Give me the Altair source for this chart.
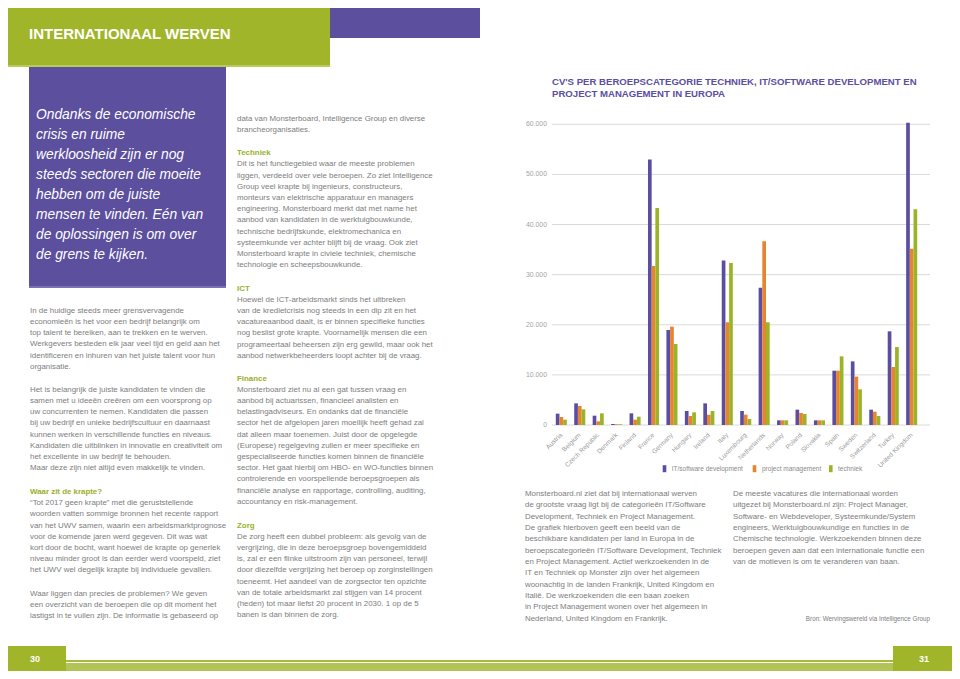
import altair as alt
import pandas as pd

# ---------------- data ----------------
countries = ["Austria", "Belgium", "Czech Republic", "Denmark", "Finland", "France",
             "Germany", "Hungary", "Ireland", "Italy", "Luxembourg", "Netherlands",
             "Norway", "Poland", "Slovakia", "Spain", "Sweden", "Switzerland",
             "Turkey", "United Kingdom"]
series = ["IT/software development", "project management", "techniek"]
it_software = [2260, 4320, 1860, 200, 2330, 53000, 18960, 2790, 4320, 32800,
               2790, 27400, 930, 3060, 930, 10840, 12700, 3060, 18690, 60300]
project_mgmt = [1600, 3790, 730, 150, 1060, 31730, 19620, 1800, 2060, 20490,
                2060, 36650, 930, 2400, 930, 10840, 9650, 2660, 11570, 35190]
techniek = [1060, 3130, 2330, 150, 1660, 43300, 16160, 2530, 2790, 32330,
            1200, 20490, 930, 2200, 930, 13700, 7120, 1800, 15570, 43040]
y_ticks = [0, 10000, 20000, 30000, 40000, 50000, 60000]
y_tick_labels = ["0", "10.000", "20.000", "30.000", "40.000", "50.000", "60.000"]

chart_title = ["CV'S PER BEROEPSCATEGORIE TECHNIEK, IT/SOFTWARE DEVELOPMENT EN",
               "PROJECT MANAGEMENT IN EUROPA"]
page_title = "INTERNATIONAAL WERVEN"
quote = ["Ondanks de economische", "crisis en ruime", "werkloosheid zijn er nog",
         "steeds sectoren die moeite", "hebben om de juiste", "mensen te vinden. Eén van",
         "de oplossingen is om over", "de grens te kijken."]
left_p1 = ["In de huidige steeds meer grensvervagende",
           "economieën is het voor een bedrijf belangrijk om",
           "top talent te bereiken, aan te trekken en te werven.",
           "Werkgevers besteden elk jaar veel tijd en geld aan het",
           "identificeren en inhuren van het juiste talent voor hun",
           "organisatie."]
left_p2 = ["Het is belangrijk de juiste kandidaten te vinden die",
           "samen met u ideeën creëren om een voorsprong op",
           "uw concurrenten te nemen. Kandidaten die passen",
           "bij uw bedrijf en unieke bedrijfscultuur en daarnaast",
           "kunnen werken in verschillende functies en niveaus.",
           "Kandidaten die uitblinken in innovatie en creativiteit om",
           "het excellente in uw bedrijf te behouden.",
           "Maar deze zijn niet altijd even makkelijk te vinden."]
left_h3 = "Waar zit de krapte?"
left_p3 = ["“Tot 2017 geen krapte” met die geruststellende",
           "woorden vatten sommige bronnen het recente rapport",
           "van het UWV samen, waarin een arbeidsmarktprognose",
           "voor de komende jaren werd gegeven. Dit was wat",
           "kort door de bocht, want hoewel de krapte op generiek",
           "niveau minder groot is dan eerder werd voorspeld, ziet",
           "het UWV wel degelijk krapte bij individuele gevallen."]
left_p4 = ["Waar liggen dan precies de problemen? We geven",
           "een overzicht van de beroepen die op dit moment het",
           "lastigst in te vullen zijn. De informatie is gebaseerd op"]
mid_p0 = ["data van Monsterboard, Intelligence Group en diverse",
          "brancheorganisaties."]
mid_h1 = "Techniek"
mid_p1 = ["Dit is het functiegebied waar de meeste problemen",
          "liggen, verdeeld over vele beroepen. Zo ziet Intelligence",
          "Group veel krapte bij ingenieurs, constructeurs,",
          "monteurs van elektrische apparatuur en managers",
          "engineering. Monsterboard merkt dat met name het",
          "aanbod van kandidaten in de werktuigbouwkunde,",
          "technische bedrijfskunde, elektromechanica en",
          "systeemkunde ver achter blijft bij de vraag. Ook ziet",
          "Monsterboard krapte in civiele techniek, chemische",
          "technologie en scheepsbouwkunde."]
mid_h2 = "ICT"
mid_p2 = ["Hoewel de ICT-arbeidsmarkt sinds het uitbreken",
          "van de kredietcrisis nog steeds in een dip zit en het",
          "vacatureaanbod daalt, is er binnen specifieke functies",
          "nog beslist grote krapte. Voornamelijk mensen die een",
          "programeertaal beheersen zijn erg gewild, maar ook het",
          "aanbod netwerkbeheerders loopt achter bij de vraag."]
mid_h3 = "Finance"
mid_p3 = ["Monsterboard ziet nu al een gat tussen vraag en",
          "aanbod bij actuarissen, financieel analisten en",
          "belastingadviseurs. En ondanks dat de financiële",
          "sector het de afgelopen jaren moeilijk heeft gehad zal",
          "dat alleen maar toenemen. Juist door de opgelegde",
          "(Europese) regelgeving zullen er meer specifieke en",
          "gespecialiseerde functies komen binnen de financiële",
          "sector. Het gaat hierbij om HBO- en WO-functies binnen",
          "controlerende en voorspellende beroepsgroepen als",
          "financiële analyse en rapportage, controlling, auditing,",
          "accountancy en risk-management."]
mid_h4 = "Zorg"
mid_p4 = ["De zorg heeft een dubbel probleem: als gevolg van de",
          "vergrijzing, die in deze beroepsgroep bovengemiddeld",
          "is, zal er een flinke uitstroom zijn van personeel, terwijl",
          "door diezelfde vergrijzing het beroep op zorginstellingen",
          "toeneemt. Het aandeel van de zorgsector ten opzichte",
          "van de totale arbeidsmarkt zal stijgen van 14 procent",
          "(heden) tot maar liefst 20 procent in 2030. 1 op de 5",
          "banen is dan binnen de zorg."]
right_p1 = ["Monsterboard.nl ziet dat bij internationaal werven",
            "de grootste vraag ligt bij de categorieën IT/Software",
            "Development, Techniek en Project Management.",
            "De grafiek hierboven geeft een beeld van de",
            "beschikbare kandidaten per land in Europa in de",
            "beroepscategorieën IT/Software Development, Techniek",
            "en Project Management. Actief werkzoekenden in de",
            "IT en Techniek op Monster zijn over het algemeen",
            "woonachtig in de landen Frankrijk, United Kingdom en",
            "Italië. De werkzoekenden die een baan zoeken",
            "in Project Management wonen over het algemeen in",
            "Nederland, United Kingdom en Frankrijk."]
right_p2 = ["De meeste vacatures die internationaal worden",
            "uitgezet bij Monsterboard.nl zijn: Project Manager,",
            "Software- en Webdeveloper, Systeemkunde/System",
            "engineers, Werktuigbouwkundige en functies in de",
            "Chemische technologie. Werkzoekenden binnen deze",
            "beroepen geven aan dat een internationale functie een",
            "van de motieven is om te veranderen van baan."]
source = "Bron: Wervingswereld via Intelligence Group"
page_left, page_right = "30", "31"

# ---------------- styles ----------------
FONT = "Liberation Sans"
PURPLE = "#5b4f9e"
GREEN = "#a0b52a"
ORANGE = "#e8842e"
BAR_COLORS = ["#5b4ea1", "#e8842e", "#9bb427"]
TEXT = "#7d7d7d"
HEAD = "#99b02a"
BODY = 7.9


def P(v):
    return v - 8  # page pixel -> chart pixel (8px page margin)


one = alt.Data(values=[{}])


def rect(x1, x2, y1, y2, color):
    return alt.Chart(one).mark_rect(color=color).encode(
        x=alt.value(max(P(x1), 0)), x2=alt.value(P(x2)),
        y=alt.value(max(P(y1), 0)), y2=alt.value(P(y2)))


def block(lines, x, yc, size=BODY, color=TEXT, lh=11.2, weight="normal",
          style="normal", align="left"):
    if isinstance(lines, str):
        lines = [lines]
    return alt.Chart(one).mark_text(
        align=align, baseline="top", font=FONT, fontSize=size, color=color,
        lineHeight=lh, fontWeight=weight, fontStyle=style).encode(
        x=alt.value(P(x)), y=alt.value(P(yc) - 0.53 * size),
        text=alt.value(lines))


layers = []
# page decoration
layers += [
    rect(0, 330, 0, 67, GREEN),
    rect(0, 330, 65, 67, "#b9c95e"),
    rect(330, 480, 0, 38, PURPLE),
    rect(29, 226, 67, 288, PURPLE),
    rect(29, 226, 286, 288, "#7a70b3"),
    rect(0, 66, 646, 679, GREEN),
    rect(893, 960, 646, 679, GREEN),
    rect(66, 893, 663, 679, "#b2c456"),
    rect(66, 893, 660, 662, "#a7bb3c"),
]
layers.append(alt.Chart(one).mark_text(
    align="left", baseline="middle", font=FONT, fontSize=15, fontWeight="bold",
    color="white").encode(x=alt.value(P(29)), y=alt.value(P(33.5)),
                          text=alt.value(page_title)))
for txt, xx in [(page_left, 35), (page_right, 924)]:
    layers.append(alt.Chart(one).mark_text(
        align="center", baseline="middle", font=FONT, fontSize=9, fontWeight="bold",
        color="white").encode(x=alt.value(P(xx)), y=alt.value(P(659)),
                              text=alt.value(txt)))

# quote and columns
layers.append(block(quote, 36, 115, size=13.8, color="white", lh=20, style="italic"))
layers += [
    block(left_p1, 30, 311),
    block(left_p2, 30, 390),
    block(left_h3, 30, 492, color=HEAD, weight="bold"),
    block(left_p3, 30, 503.3),
    block(left_p4, 30, 594),
    block(mid_p0, 237, 119.3),
    block(mid_h1, 237, 153.3, color=HEAD, weight="bold"),
    block(mid_p1, 237, 164.5),
    block(mid_h2, 237, 288.7, color=HEAD, weight="bold"),
    block(mid_p2, 237, 300),
    block(mid_h3, 237, 378.7, color=HEAD, weight="bold"),
    block(mid_p3, 237, 390),
    block(mid_h4, 237, 525.7, color=HEAD, weight="bold"),
    block(mid_p4, 237, 537),
    block(right_p1, 525, 494, lh=11.35),
    block(right_p2, 733, 494, lh=11.35),
    block(source, 930, 619, size=6.3, align="right"),
]
layers.append(alt.Chart(one).mark_text(
    align="left", baseline="top", font=FONT, fontSize=9.6, fontWeight="bold",
    color=PURPLE, lineHeight=12.7).encode(
    x=alt.value(P(552)), y=alt.value(P(82) - 0.5 * 9.6 - 0.4),
    text=alt.value(chart_title)))

# ---------------- chart ----------------
rows = []
for i, c in enumerate(countries):
    for s, vals in zip(series, [it_software, project_mgmt, techniek]):
        rows.append({"country": c, "series": s, "value": vals[i]})
df = pd.DataFrame(rows)

xscale = alt.Scale(domain=countries, range=[P(552.1), P(920.9)],
                   paddingInner=0.4, paddingOuter=0.2)
yscale = alt.Scale(domain=[0, 60000], range=[P(425), P(124.3)], nice=False, zero=True)

ticks_df = pd.DataFrame({"value": y_ticks, "label": y_tick_labels})
grid = alt.Chart(ticks_df).mark_rule(color="#dadada", strokeWidth=1).encode(
    y=alt.Y("value:Q", scale=yscale, axis=None),
    x=alt.value(P(552)), x2=alt.value(P(930)))
ylabels = alt.Chart(ticks_df).mark_text(
    align="right", baseline="middle", font=FONT, fontSize=6.9, color="#a5a5a5").encode(
    y=alt.Y("value:Q", scale=yscale, axis=None),
    x=alt.value(P(547)), text="label:N")

bars = alt.Chart(df).mark_bar().encode(
    x=alt.X("country:N", sort=countries, scale=xscale, axis=None),
    xOffset=alt.XOffset("series:N", sort=series),
    y=alt.Y("value:Q", scale=yscale, axis=None),
    color=alt.Color("series:N", scale=alt.Scale(domain=series, range=BAR_COLORS),
                    legend=None))

xlabels = alt.Chart(pd.DataFrame({"country": countries})).mark_text(
    angle=315, align="right", baseline="middle", font=FONT, fontSize=6.5,
    color="#9a9a9a").encode(
    x=alt.X("country:N", sort=countries, scale=xscale, axis=None),
    y=alt.value(P(434)), text="country:N")

layers += [grid, ylabels, bars, xlabels]

# legend
for s, col, sx, tx in zip(series, BAR_COLORS, [662.7, 752.7, 829], [671.7, 762, 838]):
    layers.append(rect(sx, sx + 3.6, 465.2, 472.2, col))
    layers.append(alt.Chart(one).mark_text(
        align="left", baseline="middle", font=FONT, fontSize=6.5, color="#8a8a8a").encode(
        x=alt.value(P(tx)), y=alt.value(P(469)), text=alt.value(s)))

chart = alt.layer(*layers).properties(
    width=944, height=663, padding=0, autosize="none", background="white"
).configure_view(stroke=None)

chart.save("out.html", embed_options={"renderer": "svg", "actions": False})
